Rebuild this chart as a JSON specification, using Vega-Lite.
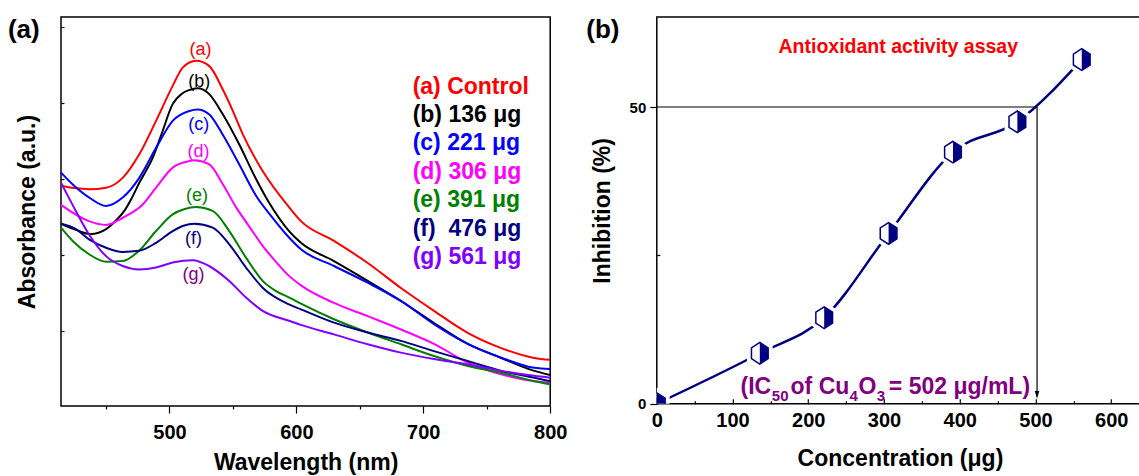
{
  "$schema": "https://vega.github.io/schema/vega-lite/v6.json",
  "padding": {"left": 7, "top": 15, "right": 0, "bottom": 0},
  "background": "white",
  "bounds": "flush",
  "spacing": 105.8,
  "config": {
    "view": {"stroke": "black", "strokeWidth": 1.5},
    "font": "Liberation Sans",
    "axis": {"labelFont": "Liberation Sans", "titleFont": "Liberation Sans", "grid": false, "domain": false, "labelFontWeight": "bold", "titleFontWeight": "bold", "labelColor": "black", "titleColor": "black", "tickColor": "black", "tickWidth": 1.2}
  },
  "datasets": {
    "spectra": [
      {"s":"a","wl":414.5,"abs":0.782},{"s":"a","wl":425,"abs":0.776},{"s":"a","wl":436.8,"abs":0.773},{"s":"a","wl":450,"abs":0.777},{"s":"a","wl":463.1,"abs":0.803},{"s":"a","wl":476.2,"abs":0.865},{"s":"a","wl":489.4,"abs":0.953},{"s":"a","wl":502.5,"abs":1.045},{"s":"a","wl":510.4,"abs":1.093},{"s":"a","wl":520.9,"abs":1.111},{"s":"a","wl":531.4,"abs":1.097},{"s":"a","wl":541.9,"abs":1.036},{"s":"a","wl":549.8,"abs":0.980},{"s":"a","wl":557.7,"abs":0.918},{"s":"a","wl":573.4,"abs":0.821},{"s":"a","wl":594.4,"abs":0.725},{"s":"a","wl":603.6,"abs":0.689},{"s":"a","wl":629.6,"abs":0.637},{"s":"a","wl":656.2,"abs":0.579},{"s":"a","wl":682.4,"abs":0.513},{"s":"a","wl":708.4,"abs":0.453},{"s":"a","wl":735,"abs":0.395},{"s":"a","wl":761.4,"abs":0.355},{"s":"a","wl":787.5,"abs":0.329},{"s":"a","wl":800,"abs":0.324},
      {"s":"b","wl":414.5,"abs":0.682},{"s":"b","wl":426.3,"abs":0.666},{"s":"b","wl":438.1,"abs":0.655},{"s":"b","wl":450,"abs":0.668},{"s":"b","wl":457,"abs":0.688},{"s":"b","wl":464.4,"abs":0.716},{"s":"b","wl":470,"abs":0.748},{"s":"b","wl":476.2,"abs":0.790},{"s":"b","wl":486.8,"abs":0.856},{"s":"b","wl":493.3,"abs":0.914},{"s":"b","wl":502.5,"abs":0.997},{"s":"b","wl":510,"abs":1.025},{"s":"b","wl":515.4,"abs":1.034},{"s":"b","wl":522.2,"abs":1.039},{"s":"b","wl":531.1,"abs":1.024},{"s":"b","wl":541.9,"abs":0.971},{"s":"b","wl":554.8,"abs":0.892},{"s":"b","wl":568.2,"abs":0.800},{"s":"b","wl":578.4,"abs":0.738},{"s":"b","wl":594.2,"abs":0.663},{"s":"b","wl":603.6,"abs":0.632},{"s":"b","wl":629.6,"abs":0.584},{"s":"b","wl":656.2,"abs":0.532},{"s":"b","wl":682.4,"abs":0.479},{"s":"b","wl":708.4,"abs":0.421},{"s":"b","wl":735,"abs":0.366},{"s":"b","wl":761.4,"abs":0.329},{"s":"b","wl":787.5,"abs":0.295},{"s":"b","wl":800,"abs":0.284},
      {"s":"c","wl":414.5,"abs":0.817},{"s":"c","wl":424,"abs":0.785},{"s":"c","wl":436.8,"abs":0.751},{"s":"c","wl":450,"abs":0.729},{"s":"c","wl":463.1,"abs":0.751},{"s":"c","wl":476.2,"abs":0.803},{"s":"c","wl":489.4,"abs":0.882},{"s":"c","wl":502.5,"abs":0.953},{"s":"c","wl":515.6,"abs":0.979},{"s":"c","wl":522.2,"abs":0.983},{"s":"c","wl":531.4,"abs":0.970},{"s":"c","wl":541.9,"abs":0.917},{"s":"c","wl":555,"abs":0.838},{"s":"c","wl":568.2,"abs":0.756},{"s":"c","wl":580,"abs":0.703},{"s":"c","wl":594.2,"abs":0.646},{"s":"c","wl":603.6,"abs":0.615},{"s":"c","wl":629.6,"abs":0.571},{"s":"c","wl":656.2,"abs":0.527},{"s":"c","wl":682.4,"abs":0.479},{"s":"c","wl":708.4,"abs":0.418},{"s":"c","wl":735,"abs":0.366},{"s":"c","wl":761.4,"abs":0.330},{"s":"c","wl":787.5,"abs":0.303},{"s":"c","wl":800,"abs":0.300},
      {"s":"d","wl":414.5,"abs":0.732},{"s":"d","wl":436.6,"abs":0.689},{"s":"d","wl":450,"abs":0.679},{"s":"d","wl":463.1,"abs":0.698},{"s":"d","wl":478.9,"abs":0.733},{"s":"d","wl":489.4,"abs":0.777},{"s":"d","wl":502.5,"abs":0.830},{"s":"d","wl":515.4,"abs":0.847},{"s":"d","wl":519.3,"abs":0.849},{"s":"d","wl":531.1,"abs":0.839},{"s":"d","wl":541.9,"abs":0.787},{"s":"d","wl":552.4,"abs":0.726},{"s":"d","wl":562.6,"abs":0.676},{"s":"d","wl":573.4,"abs":0.624},{"s":"d","wl":583.9,"abs":0.582},{"s":"d","wl":594.2,"abs":0.545},{"s":"d","wl":603.6,"abs":0.520},{"s":"d","wl":629.6,"abs":0.474},{"s":"d","wl":656.2,"abs":0.439},{"s":"d","wl":682.4,"abs":0.404},{"s":"d","wl":708.4,"abs":0.366},{"s":"d","wl":735,"abs":0.317},{"s":"d","wl":761.4,"abs":0.286},{"s":"d","wl":787.5,"abs":0.268},{"s":"d","wl":800,"abs":0.264},
      {"s":"e","wl":414.5,"abs":0.672},{"s":"e","wl":423.7,"abs":0.637},{"s":"e","wl":436.6,"abs":0.602},{"s":"e","wl":450,"abs":0.582},{"s":"e","wl":463.1,"abs":0.584},{"s":"e","wl":476,"abs":0.611},{"s":"e","wl":489.4,"abs":0.663},{"s":"e","wl":502.5,"abs":0.707},{"s":"e","wl":512,"abs":0.721},{"s":"e","wl":520.9,"abs":0.726},{"s":"e","wl":534,"abs":0.716},{"s":"e","wl":547.1,"abs":0.663},{"s":"e","wl":560.3,"abs":0.593},{"s":"e","wl":573.4,"abs":0.532},{"s":"e","wl":585,"abs":0.503},{"s":"e","wl":594.4,"abs":0.488},{"s":"e","wl":603.6,"abs":0.472},{"s":"e","wl":629.6,"abs":0.431},{"s":"e","wl":656.2,"abs":0.396},{"s":"e","wl":682.4,"abs":0.365},{"s":"e","wl":708.4,"abs":0.334},{"s":"e","wl":735,"abs":0.308},{"s":"e","wl":761.4,"abs":0.290},{"s":"e","wl":787.5,"abs":0.268},{"s":"e","wl":800,"abs":0.260},
      {"s":"f","wl":414.5,"abs":0.682},{"s":"f","wl":426.3,"abs":0.668},{"s":"f","wl":436.6,"abs":0.641},{"s":"f","wl":450,"abs":0.619},{"s":"f","wl":463.1,"abs":0.608},{"s":"f","wl":476,"abs":0.611},{"s":"f","wl":489.4,"abs":0.632},{"s":"f","wl":502.5,"abs":0.663},{"s":"f","wl":511,"abs":0.677},{"s":"f","wl":519.5,"abs":0.682},{"s":"f","wl":534,"abs":0.672},{"s":"f","wl":547.1,"abs":0.628},{"s":"f","wl":560.3,"abs":0.567},{"s":"f","wl":573.4,"abs":0.514},{"s":"f","wl":594.2,"abs":0.470},{"s":"f","wl":603.6,"abs":0.457},{"s":"f","wl":629.6,"abs":0.422},{"s":"f","wl":656.2,"abs":0.396},{"s":"f","wl":682.4,"abs":0.374},{"s":"f","wl":708.4,"abs":0.347},{"s":"f","wl":735,"abs":0.321},{"s":"f","wl":761.4,"abs":0.295},{"s":"f","wl":787.5,"abs":0.277},{"s":"f","wl":800,"abs":0.268},
      {"s":"g","wl":414.5,"abs":0.790},{"s":"g","wl":420,"abs":0.755},{"s":"g","wl":426.3,"abs":0.715},{"s":"g","wl":436.6,"abs":0.654},{"s":"g","wl":450,"abs":0.597},{"s":"g","wl":463.1,"abs":0.571},{"s":"g","wl":476,"abs":0.562},{"s":"g","wl":489.4,"abs":0.567},{"s":"g","wl":502.5,"abs":0.580},{"s":"g","wl":518.3,"abs":0.586},{"s":"g","wl":531.1,"abs":0.571},{"s":"g","wl":546.9,"abs":0.532},{"s":"g","wl":560.3,"abs":0.488},{"s":"g","wl":573.4,"abs":0.453},{"s":"g","wl":594.2,"abs":0.427},{"s":"g","wl":603.6,"abs":0.416},{"s":"g","wl":629.6,"abs":0.391},{"s":"g","wl":656.2,"abs":0.365},{"s":"g","wl":682.4,"abs":0.343},{"s":"g","wl":708.4,"abs":0.326},{"s":"g","wl":735,"abs":0.312},{"s":"g","wl":761.4,"abs":0.295},{"s":"g","wl":787.5,"abs":0.282},{"s":"g","wl":800,"abs":0.277}
    ],
    "inhib": [
      {"conc":0,"inh":0},{"conc":136,"inh":8.5},{"conc":221,"inh":14.5},{"conc":306,"inh":28.7},{"conc":391,"inh":42.4},{"conc":476,"inh":47.5},{"conc":561,"inh":58.0}
    ]
  },
  "hconcat": [
    {
      "width": 489.2,
      "height": 389,
      "layer": [
        {"data": {"name": "spectra"}, "mark": {"type": "line", "strokeWidth": 2, "interpolate": "monotone"},
          "encoding": {
            "x": {"field": "wl", "type": "quantitative", "scale": {"domain": [414.5, 800], "nice": false, "zero": false},
              "axis": {"title": "Wavelength (nm)", "values": [450,500,550,600,650,700,750,800], "format": "d",
                "labelExpr": "datum.value % 100 === 0 ? datum.label : ''",
                "tickSize": {"condition": {"test": "datum.value % 100 === 0", "value": 7}, "value": 3},
                "labelFontSize": 20, "labelPadding": 9, "labelFlush": false, "titleFontSize": 23, "titlePadding": 9}},
            "y": {"field": "abs", "type": "quantitative", "scale": {"domain": [0.2026, 1.2263], "nice": false, "zero": false},
              "axis": {"title": "Absorbance (a.u.)", "values": [0.4,0.6,0.8,1.0,1.2], "labels": false, "tickSize": -3, "titleFontSize": 23, "titlePadding": 21}},
            "color": {"field": "s", "type": "nominal", "legend": null,
              "scale": {"domain": ["a","b","c","d","e","f","g"], "range": ["#ff0000","#000000","#0000ff","#ff00ff","#008000","#000080","#8000ff"]}}}},
        {"data": {"values": [{}]}, "mark": {"type": "text", "text": "(a)", "fontSize": 18, "color": "#ff0000", "align": "center", "baseline": "middle"}, "encoding": {"x": {"datum": 524.5, "type": "quantitative"}, "y": {"datum": 1.140, "type": "quantitative"}}},
        {"data": {"values": [{}]}, "mark": {"type": "text", "text": "(b)", "fontSize": 18, "color": "#000000", "align": "center", "baseline": "middle"}, "encoding": {"x": {"datum": 523.5, "type": "quantitative"}, "y": {"datum": 1.056, "type": "quantitative"}}},
        {"data": {"values": [{}]}, "mark": {"type": "text", "text": "(c)", "fontSize": 18, "color": "#0000ff", "align": "center", "baseline": "middle"}, "encoding": {"x": {"datum": 523.1, "type": "quantitative"}, "y": {"datum": 0.941, "type": "quantitative"}}},
        {"data": {"values": [{}]}, "mark": {"type": "text", "text": "(d)", "fontSize": 18, "color": "#ff00ff", "align": "center", "baseline": "middle"}, "encoding": {"x": {"datum": 522.9, "type": "quantitative"}, "y": {"datum": 0.871, "type": "quantitative"}}},
        {"data": {"values": [{}]}, "mark": {"type": "text", "text": "(e)", "fontSize": 18, "color": "#008000", "align": "center", "baseline": "middle"}, "encoding": {"x": {"datum": 521.6, "type": "quantitative"}, "y": {"datum": 0.754, "type": "quantitative"}}},
        {"data": {"values": [{}]}, "mark": {"type": "text", "text": "(f)", "fontSize": 18, "color": "#000080", "align": "center", "baseline": "middle"}, "encoding": {"x": {"datum": 518.9, "type": "quantitative"}, "y": {"datum": 0.641, "type": "quantitative"}}},
        {"data": {"values": [{}]}, "mark": {"type": "text", "text": "(g)", "fontSize": 18, "color": "#800080", "align": "center", "baseline": "middle"}, "encoding": {"x": {"datum": 518.9, "type": "quantitative"}, "y": {"datum": 0.547, "type": "quantitative"}}},
        {"data": {"values": [{}]}, "mark": {"type": "text", "text": "(a) Control", "fontSize": 23, "fontWeight": "bold", "color": "#ff0000", "align": "left", "baseline": "alphabetic"}, "encoding": {"x": {"datum": 691.6, "type": "quantitative"}, "y": {"datum": 1.0245, "type": "quantitative"}}},
        {"data": {"values": [{}]}, "mark": {"type": "text", "text": "(b) 136 μg", "fontSize": 23, "fontWeight": "bold", "color": "#000000", "align": "left", "baseline": "alphabetic"}, "encoding": {"x": {"datum": 691.6, "type": "quantitative"}, "y": {"datum": 0.9497, "type": "quantitative"}}},
        {"data": {"values": [{}]}, "mark": {"type": "text", "text": "(c) 221 μg", "fontSize": 23, "fontWeight": "bold", "color": "#0000ff", "align": "left", "baseline": "alphabetic"}, "encoding": {"x": {"datum": 691.6, "type": "quantitative"}, "y": {"datum": 0.8750, "type": "quantitative"}}},
        {"data": {"values": [{}]}, "mark": {"type": "text", "text": "(d) 306 μg", "fontSize": 23, "fontWeight": "bold", "color": "#ff00ff", "align": "left", "baseline": "alphabetic"}, "encoding": {"x": {"datum": 691.6, "type": "quantitative"}, "y": {"datum": 0.8003, "type": "quantitative"}}},
        {"data": {"values": [{}]}, "mark": {"type": "text", "text": "(e) 391 μg", "fontSize": 23, "fontWeight": "bold", "color": "#008000", "align": "left", "baseline": "alphabetic"}, "encoding": {"x": {"datum": 691.6, "type": "quantitative"}, "y": {"datum": 0.7255, "type": "quantitative"}}},
        {"data": {"values": [{}]}, "mark": {"type": "text", "text": "(f)\u00a0 476 μg", "fontSize": 23, "fontWeight": "bold", "color": "#000080", "align": "left", "baseline": "alphabetic"}, "encoding": {"x": {"datum": 691.6, "type": "quantitative"}, "y": {"datum": 0.6508, "type": "quantitative"}}},
        {"data": {"values": [{}]}, "mark": {"type": "text", "text": "(g) 561 μg", "fontSize": 23, "fontWeight": "bold", "color": "#8000ff", "align": "left", "baseline": "alphabetic"}, "encoding": {"x": {"datum": 691.6, "type": "quantitative"}, "y": {"datum": 0.5761, "type": "quantitative"}}},
        {"data": {"values": [{}]}, "mark": {"type": "text", "text": "(a)", "fontSize": 26, "fontWeight": "bold", "color": "#000000", "align": "left", "baseline": "middle"}, "encoding": {"x": {"datum": 372.7, "type": "quantitative"}, "y": {"datum": 1.193, "type": "quantitative"}}}
      ]
    },
    {
      "width": 486.3,
      "height": 386.7,
      "layer": [
        {"data": {"name": "inhib"}, "mark": {"type": "line", "color": "#000080", "strokeWidth": 2.5, "interpolate": "monotone"},
          "encoding": {
            "x": {"field": "conc", "type": "quantitative", "scale": {"domain": [0, 642], "nice": false},
              "axis": {"title": "Concentration (μg)", "values": [0,50,100,150,200,250,300,350,400,450,500,550,600], "format": "d",
                "labelExpr": "datum.value % 100 === 0 ? datum.label : ''",
                "tickSize": {"condition": {"test": "datum.value % 100 === 0", "value": -5}, "value": -3},
                "labelFontSize": 20, "labelPadding": 12, "labelFlush": false, "titleFontSize": 23, "titlePadding": 17}},
            "y": {"field": "inh", "type": "quantitative", "scale": {"domain": [0, 65.17], "nice": false},
              "axis": {"title": "Inhibition (%)", "values": [0,25,50], "format": "d",
                "labelExpr": "datum.value === 25 ? '' : datum.label",
                "tickSize": {"condition": {"test": "datum.value === 25", "value": -3}, "value": 7},
                "labelFontSize": 15, "labelPadding": 4, "titleFontSize": 23, "titlePadding": 15}}}},
        {"data": {"name": "inhib"}, "mark": {"type": "point", "clip": true, "filled": true, "opacity": 1, "shape": "M0,-1L0.77,-0.5L0.77,0.5L0,1L-0.77,0.5L-0.77,-0.5Z", "size": 471, "fill": "white", "stroke": "white", "strokeWidth": 9},
          "encoding": {"x": {"field": "conc", "type": "quantitative"}, "y": {"field": "inh", "type": "quantitative"}}},
        {"data": {"values": [{}]}, "mark": {"type": "rule", "color": "black", "strokeWidth": 1.2}, "encoding": {"x": {"datum": 0, "type": "quantitative"}, "x2": {"datum": 502}, "y": {"datum": 50, "type": "quantitative"}}},
        {"data": {"values": [{}]}, "mark": {"type": "rule", "color": "black", "strokeWidth": 1.2}, "encoding": {"x": {"datum": 502, "type": "quantitative"}, "y": {"datum": 50, "type": "quantitative"}, "y2": {"datum": 2}}},
        {"data": {"values": [{}]}, "mark": {"type": "point", "filled": true, "opacity": 1, "color": "black", "shape": "M-0.6,-1L0.6,-1L0,1Z", "size": 59}, "encoding": {"x": {"datum": 502, "type": "quantitative"}, "y": {"datum": 1.5, "type": "quantitative"}}},
        {"data": {"name": "inhib"}, "mark": {"type": "point", "clip": true, "filled": false, "opacity": 1, "shape": "M0,-1L0.77,-0.5L0.77,0.5L0,1L-0.77,0.5L-0.77,-0.5Z", "size": 471, "fill": "white", "fillOpacity": 1, "stroke": "#000080", "strokeWidth": 1.5},
          "encoding": {"x": {"field": "conc", "type": "quantitative"}, "y": {"field": "inh", "type": "quantitative"}}},
        {"data": {"name": "inhib"}, "mark": {"type": "point", "clip": true, "filled": true, "opacity": 1, "shape": "M0,-1L0.77,-0.5L0.77,0.5L0,1Z", "size": 471, "color": "#000080"},
          "encoding": {"x": {"field": "conc", "type": "quantitative"}, "y": {"field": "inh", "type": "quantitative"}}},
        {"data": {"values": [{}]}, "mark": {"type": "text", "text": "Antioxidant activity assay", "fontSize": 19.5, "fontWeight": "bold", "color": "#ff0000", "align": "center", "baseline": "alphabetic"}, "encoding": {"x": {"datum": 318.8, "type": "quantitative"}, "y": {"datum": 59.15, "type": "quantitative"}}},
        {"data": {"values": [{}]}, "mark": {"type": "text", "text": "(IC", "fontSize": 23, "fontWeight": "bold", "color": "#800080", "align": "left", "baseline": "alphabetic"}, "encoding": {"x": {"datum": 110.5, "type": "quantitative"}, "y": {"datum": 1.58, "type": "quantitative"}}},
        {"data": {"values": [{}]}, "mark": {"type": "text", "text": "50", "fontSize": 15, "fontWeight": "bold", "color": "#800080", "align": "left", "baseline": "alphabetic"}, "encoding": {"x": {"datum": 151.8, "type": "quantitative"}, "y": {"datum": 0.455, "type": "quantitative"}}},
        {"data": {"values": [{}]}, "mark": {"type": "text", "text": "of Cu", "fontSize": 23, "fontWeight": "bold", "color": "#800080", "align": "left", "baseline": "alphabetic"}, "encoding": {"x": {"datum": 176.6, "type": "quantitative"}, "y": {"datum": 1.58, "type": "quantitative"}}},
        {"data": {"values": [{}]}, "mark": {"type": "text", "text": "4", "fontSize": 15, "fontWeight": "bold", "color": "#800080", "align": "left", "baseline": "alphabetic"}, "encoding": {"x": {"datum": 254.3, "type": "quantitative"}, "y": {"datum": 0.455, "type": "quantitative"}}},
        {"data": {"values": [{}]}, "mark": {"type": "text", "text": "O", "fontSize": 23, "fontWeight": "bold", "color": "#800080", "align": "left", "baseline": "alphabetic"}, "encoding": {"x": {"datum": 266.2, "type": "quantitative"}, "y": {"datum": 1.58, "type": "quantitative"}}},
        {"data": {"values": [{}]}, "mark": {"type": "text", "text": "3", "fontSize": 15, "fontWeight": "bold", "color": "#800080", "align": "left", "baseline": "alphabetic"}, "encoding": {"x": {"datum": 290.5, "type": "quantitative"}, "y": {"datum": 0.455, "type": "quantitative"}}},
        {"data": {"values": [{}]}, "mark": {"type": "text", "text": "= 502 μg/mL)", "fontSize": 23, "fontWeight": "bold", "color": "#800080", "align": "left", "baseline": "alphabetic"}, "encoding": {"x": {"datum": 306.3, "type": "quantitative"}, "y": {"datum": 1.58, "type": "quantitative"}}},
        {"data": {"values": [{}]}, "mark": {"type": "text", "text": "(b)", "fontSize": 26, "fontWeight": "bold", "color": "#000000", "align": "left", "baseline": "middle"}, "encoding": {"x": {"datum": -93.1, "type": "quantitative"}, "y": {"datum": 63.06, "type": "quantitative"}}}
      ]
    }
  ]
}
